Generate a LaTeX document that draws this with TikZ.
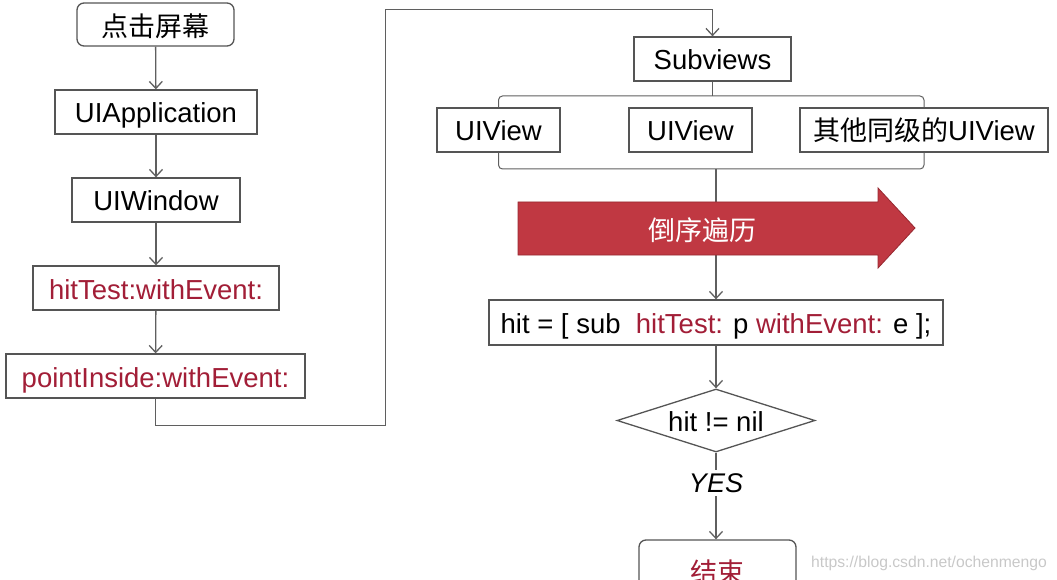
\documentclass[tikz,border=0pt]{standalone}
\usepackage{fontspec}
\setmainfont{Liberation Sans}
\newfontfamily\cjk{Noto Sans CJK SC}
\usetikzlibrary{arrows.meta,shapes.geometric}
\definecolor{boxgray}{RGB}{85,85,85}
\definecolor{linegray}{RGB}{95,95,95}
\definecolor{redtext}{RGB}{162,30,55}
\definecolor{bigred}{RGB}{192,56,66}
\definecolor{bigredline}{RGB}{150,40,48}
\definecolor{wmgray}{RGB}{200,200,200}
\begin{document}
\begin{tikzpicture}[x=1pt,y=-1pt,
  box/.style={draw=boxgray, line width=1.3pt, inner sep=0pt, fill=white,
    text height=22pt, text depth=0pt,
    font=\fontsize{27.5}{30}\selectfont},
  cjkfont/.style={font=\fontsize{27}{30}\selectfont\cjk},
  conn/.style={draw=linegray, line width=1.3pt,
    -{Straight Barb[length=7pt,width=13pt,line width=1.3pt]}},
  thin/.style={draw=linegray, line width=1pt},
  red/.style={text=redtext}]
\useasboundingbox (0,0) rectangle (1057,580);
\clip (0,0) rectangle (1057,580);

% left column
\node[box, rounded corners=7pt, minimum width=157pt, minimum height=43pt, cjkfont, text height=25pt] (start) at (155.5,24.5) {点击屏幕};
\node[box, minimum width=202pt, minimum height=44pt] (app) at (156,112) {UIApplication};
\node[box, minimum width=168pt, minimum height=44pt] (win) at (156,200) {UIWindow};
\node[box, red, minimum width=246pt, minimum height=44pt] (ht) at (156,288) {hitTest:withEvent:};
\node[box, red, minimum width=299pt, minimum height=44pt] (pi) at (155.5,376) {pointInside:withEvent:};

\draw[conn] (start) -- (app);
\draw[conn] (app) -- (win);
\draw[conn] (win) -- (ht);
\draw[conn] (ht) -- (pi);

% right column
\node[box, minimum width=157pt, minimum height=44pt] (sub) at (712.5,59) {Subviews};
\node[box, minimum width=123pt, minimum height=44pt] (v1) at (498.5,130) {UIView};
\node[box, minimum width=123pt, minimum height=44pt] (v2) at (690.5,130) {UIView};
\node[box, minimum width=248pt, minimum height=44pt] (v3) at (924,130) {{\fontsize{27}{30}\selectfont\cjk 其他同级的}UIView};

\coordinate (c1) at (155.5,425);
\coordinate (c2) at (385,425);
\coordinate (c3) at (385,10);
\coordinate (c4) at (712.5,10);
\draw[conn, line width=1pt] (pi.south) -- (c1) -- (c2) -- (c3) -- (c4) -- (sub.north);

% brackets
\coordinate (tb) at (712.5,96);
\draw[thin, rounded corners=4pt] (v1.north) -- (v1.north |- tb) -- (v3.north |- tb) -- (v3.north);
\draw[thin] (sub.south) -- (tb);
\coordinate (bb) at (716,169);
\draw[thin, rounded corners=4pt] (v1.south) -- (v1.south |- bb) -- (v3.south |- bb) -- (v3.south);

\node[box, minimum width=454pt, minimum height=45pt] (hit) at (716,322.5)
  {hit = [ sub\ \ \textcolor{redtext}{hitTest:} p \textcolor{redtext}{withEvent:} e ];};
\draw[conn] (bb) -- (hit.north);

% big red arrow
\fill[bigred, draw=bigredline, line width=0.8pt]
  (518,202) -- (878,202) -- (878,188) -- (915,228) -- (878,268) -- (878,255) -- (518,255) -- cycle;
\node[text=white, cjkfont] (order) at (702,230) {倒序遍历};

\node[box, diamond, aspect=3.14, minimum width=198pt, minimum height=63pt] (dia) at (716,420.5) {hit != nil};
\draw[conn] (hit) -- (dia);

\node[box, rounded corners=7pt, minimum width=157pt, minimum height=62pt, cjkfont, red] (fin) at (717.5,571) {结束};
\draw[conn] (dia.south) -- node[pos=0.35, fill=white, inner sep=3pt, font=\fontsize{27}{30}\selectfont\itshape] (yes) {YES} (dia.south |- fin.north);

\node[anchor=west, text=wmgray, inner sep=0pt, font=\fontsize{15.7}{18}\selectfont] (wm) at (811,563) {https://blog.csdn.net/ochenmengo};
\end{tikzpicture}
\end{document}
